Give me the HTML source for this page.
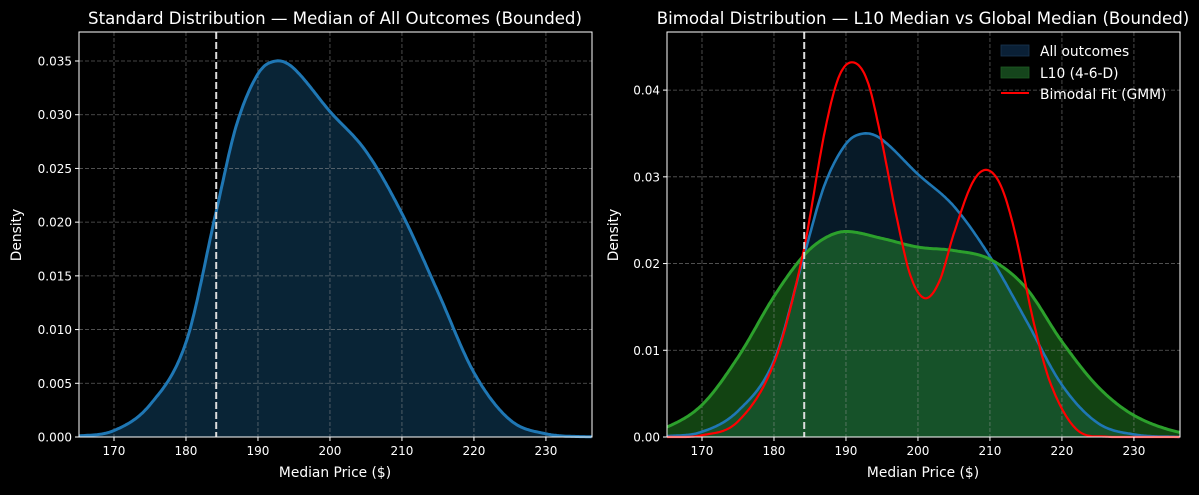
<!DOCTYPE html>
<html><head><meta charset="utf-8"><style>
body{margin:0;background:#000;width:1199px;height:490px;overflow:hidden}
svg{font-family:"DejaVu Sans","Liberation Sans",sans-serif}
</style></head><body>
<svg id="s" width="1199" height="490" xmlns="http://www.w3.org/2000/svg">
<rect width="1199" height="490" fill="#000"/>
<g id="L"></g><g id="R"></g>
<text x="335" y="24" fill="#fff" font-size="16.6" text-anchor="middle">Standard Distribution — Median of All Outcomes (Bounded)</text>
<text x="923" y="24" fill="#fff" font-size="16.6" text-anchor="middle">Bimodal Distribution — L10 Median vs Global Median (Bounded)</text>
<text x="335" y="477" fill="#fff" font-size="13.8" text-anchor="middle">Median Price ($)</text>
<text x="923" y="477" fill="#fff" font-size="13.8" text-anchor="middle">Median Price ($)</text>
<text transform="translate(21,235) rotate(-90)" fill="#fff" font-size="13.8" text-anchor="middle">Density</text>
<text transform="translate(618,235) rotate(-90)" fill="#fff" font-size="13.8" text-anchor="middle">Density</text>
<g font-size="13.8" fill="#fff">
<rect x="1001" y="45" width="28" height="11" fill="#0a2036" stroke="#1a3550" stroke-width="0.8"/>
<text x="1040" y="56">All outcomes</text>
<rect x="1001" y="67" width="28" height="11" fill="#15451c" stroke="#1f5a22" stroke-width="0.8"/>
<text x="1040" y="78">L10 (4-6-D)</text>
<line x1="1001" y1="93" x2="1029" y2="93" stroke="#f00" stroke-width="2"/>
<text x="1040" y="99">Bimodal Fit (GMM)</text>
</g>
</svg>
<script>
const NS="http://www.w3.org/2000/svg";
function el(p,t,a,txt){const e=document.createElementNS(NS,t);for(const k in a)e.setAttribute(k,a[k]);if(txt!==undefined)e.textContent=txt;p.appendChild(e);return e;}
const blue=[[160,0],[165,0.0001],[170,0.0006],[175,0.003],[180,0.0088],[184.2,0.021],[187,0.029],[190,0.0338],[192.5,0.035],[195,0.0343],[200,0.0303],[205,0.0266],[210,0.0208],[215,0.0135],[220,0.006],[225,0.0016],[230,0.0003],[236,0.00002],[242,0]];
const green=[[160,0],[165,0.0011],[170,0.0037],[175,0.0092],[180,0.0162],[184,0.0208],[187,0.0229],[190,0.0237],[195,0.0229],[200,0.0219],[205,0.0215],[210,0.0205],[215,0.0172],[220,0.011],[225,0.0058],[230,0.0025],[236,0.0006],[242,0]];
const red=[[160,0],[165,0],[170,0.0002],[175,0.0018],[180,0.0085],[184,0.021],[187,0.035],[189,0.0415],[191,0.0432],[193,0.041],[195,0.034],[197,0.0255],[199,0.0185],[201,0.016],[203,0.018],[205,0.0235],[207.5,0.0292],[209.5,0.0308],[211.5,0.029],[213.5,0.0235],[216,0.0135],[218.5,0.006],[222,0.0009],[226,0.00005],[236,0],[242,0]];
function interp(pts,x){for(let i=0;i<pts.length-1;i++){if(x>=pts[i][0]&&x<=pts[i+1][0]){const p0=pts[Math.max(i-1,0)],p1=pts[i],p2=pts[i+1],p3=pts[Math.min(i+2,pts.length-1)];const t=(x-p1[0])/(p2[0]-p1[0]);const h=p2[0]-p1[0];const m1=(p2[1]-p0[1])/(p2[0]-p0[0])*h,m2=(p3[1]-p1[1])/(p3[0]-p1[0])*h;const t2=t*t,t3=t2*t;return Math.max(0,(2*t3-3*t2+1)*p1[1]+(t3-2*t2+t)*m1+(-2*t3+3*t2)*p2[1]+(t3-t2)*m2);}}return 0;}
function panel(g,x0,x1,ymax,yt,fmt,series){
 const X0=165.14,X1=236.4,top=32,bot=437;
 const sx=v=>x0+(v-X0)/(X1-X0)*(x1-x0),sy=v=>bot-v/ymax*(bot-top);
 series.forEach(s=>{if(!s.fill)return;let d="M"+sx(X0)+","+bot;for(let v=X0;v<=X1+0.001;v+=0.2)d+=" L"+sx(v).toFixed(1)+","+sy(interp(s.p,v)).toFixed(1);d+=" L"+sx(X1)+","+bot+"Z";el(g,"path",{d,fill:s.fill,"fill-opacity":s.fo});});
 for(let v=170;v<=230;v+=10){el(g,"line",{x1:sx(v),x2:sx(v),y1:top,y2:bot,stroke:"#999","stroke-opacity":0.6,"stroke-dasharray":"4,2","stroke-width":0.8});}
 yt.forEach(v=>{el(g,"line",{x1:x0,x2:x1,y1:sy(v),y2:sy(v),stroke:"#999","stroke-opacity":0.6,"stroke-dasharray":"4,2","stroke-width":0.8});});
 series.forEach(s=>{let d="";for(let v=X0;v<=X1+0.001;v+=0.2)d+=(d?" L":"M")+sx(v).toFixed(1)+","+sy(interp(s.p,v)).toFixed(1);el(g,"path",{d,fill:"none",stroke:s.c,"stroke-width":s.w});});
 el(g,"line",{x1:sx(184.2),x2:sx(184.2),y1:top,y2:bot,stroke:"#ddd","stroke-width":2,"stroke-dasharray":"7,3"});
 el(g,"rect",{x:x0,y:top,width:x1-x0,height:bot-top,fill:"none",stroke:"#fff","stroke-width":1});
 for(let v=170;v<=230;v+=10){el(g,"line",{x1:sx(v),x2:sx(v),y1:bot,y2:bot+4,stroke:"#fff"});el(g,"text",{x:sx(v),y:bot+18,fill:"#fff","font-size":12,"text-anchor":"middle"},v);}
 yt.forEach(v=>{el(g,"line",{x1:x0-4,x2:x0,y1:sy(v),y2:sy(v),stroke:"#fff"});el(g,"text",{x:x0-7,y:sy(v)+4.5,fill:"#fff","font-size":12,"text-anchor":"end"},fmt(v));});
}
panel(document.getElementById("L"),79,592,0.0377,[0,0.005,0.01,0.015,0.02,0.025,0.03,0.035],v=>v.toFixed(3),
 [{p:blue,c:"#1f77b4",w:3,fill:"#1f77b4",fo:0.3}]);
panel(document.getElementById("R"),667,1180,0.0467,[0,0.01,0.02,0.03,0.04],v=>v.toFixed(2),
 [{p:blue,c:"#1f77b4",w:2.6,fill:"#1f77b4",fo:0.22},{p:green,c:"#2ca02c",w:3,fill:"#2ca02c",fo:0.42},{p:red,c:"#ff0000",w:2.2}]);
</script>
</body></html>
